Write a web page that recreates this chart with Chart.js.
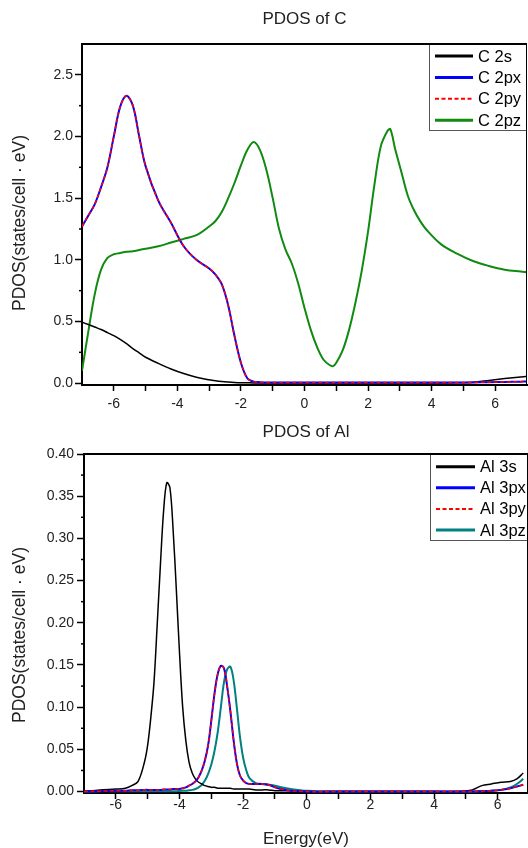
<!DOCTYPE html>
<html>
<head>
<meta charset="utf-8">
<title>PDOS of C and Al</title>
<script src="https://cdn.jsdelivr.net/npm/chart.js@4.4.0/dist/chart.umd.min.js"></script>
<style>
  body { margin: 0; background: #fff; }
  canvas { position: absolute; left: 0; }
  #chartC { top: 0; }
  #chartAl { top: 416px; }
</style>
</head>
<body>
<canvas id="chartC" width="528" height="416"></canvas>
<canvas id="chartAl" width="528" height="432"></canvas>
<script>
// ---- PDOS of C ----
var energyC = [-7, -6.8, -6.6, -6.4, -6.2, -6, -5.8, -5.6, -5.4, -5.2, -5, -4.6, -4.2, -3.8, -3.4,
  -3, -2.8, -2.6, -2.4, -2.2, -2, -1.8, -1.6, -1.4, -1.2, -1, -0.8, -0.6, -0.4, -0.2,
  0, 0.2, 0.4, 0.6, 0.8, 0.9, 1, 1.2, 1.4, 1.6, 1.8, 2, 2.2, 2.4, 2.6,
  2.7, 2.85, 3.05, 3.25, 3.45, 3.65, 3.85, 4.3, 4.8, 5.3, 5.8, 6.3, 6.8, 7];
var c2s = [0.495, 0.475, 0.455, 0.435, 0.41, 0.385, 0.355, 0.32, 0.28, 0.245, 0.21, 0.16, 0.115, 0.078, 0.048,
  0.027, 0.019, 0.013, 0.009, 0.006, 0.004, 0.003, 0.002, 0.002, 0.002, 0.002, 0.002, 0.002, 0.002, 0.002,
  0.002, 0.002, 0.002, 0.002, 0.002, 0.002, 0.002, 0.002, 0.002, 0.002, 0.002, 0.002, 0.002, 0.002, 0.002,
  0.002, 0.002, 0.002, 0.002, 0.002, 0.002, 0.002, 0.002, 0.003, 0.008, 0.022, 0.037, 0.05, 0.055];
var c2px = [1.27, 1.36, 1.45, 1.59, 1.75, 2.0, 2.24, 2.33, 2.25, 2.0, 1.76, 1.48, 1.30, 1.11, 1.0,
  0.93, 0.88, 0.80, 0.63, 0.38, 0.165, 0.04, 0.012, 0.008, 0.006, 0.006, 0.006, 0.006, 0.006, 0.006,
  0.006, 0.006, 0.006, 0.006, 0.006, 0.006, 0.006, 0.006, 0.006, 0.006, 0.006, 0.006, 0.006, 0.006, 0.006,
  0.006, 0.006, 0.006, 0.006, 0.006, 0.006, 0.006, 0.006, 0.005, 0.006, 0.008, 0.010, 0.012, 0.013];
var c2py = [1.27, 1.36, 1.45, 1.59, 1.75, 2.0, 2.24, 2.33, 2.25, 2.0, 1.76, 1.48, 1.30, 1.11, 1.0,
  0.93, 0.88, 0.80, 0.63, 0.38, 0.165, 0.04, 0.012, 0.008, 0.006, 0.006, 0.006, 0.006, 0.006, 0.006,
  0.006, 0.006, 0.006, 0.006, 0.006, 0.006, 0.006, 0.006, 0.006, 0.006, 0.006, 0.006, 0.006, 0.006, 0.006,
  0.006, 0.006, 0.006, 0.006, 0.006, 0.006, 0.006, 0.006, 0.005, 0.006, 0.008, 0.010, 0.012, 0.013];
var c2pz = [0.10, 0.42, 0.72, 0.92, 1.015, 1.045, 1.055, 1.065, 1.07, 1.08, 1.09, 1.11, 1.14, 1.17, 1.20,
  1.27, 1.315, 1.39, 1.50, 1.625, 1.765, 1.89, 1.955, 1.89, 1.73, 1.50, 1.25, 1.085, 0.97, 0.81,
  0.61, 0.43, 0.29, 0.19, 0.145, 0.138, 0.165, 0.265, 0.43, 0.65, 0.91, 1.23, 1.61, 1.92, 2.04,
  2.06, 1.90, 1.71, 1.52, 1.40, 1.31, 1.24, 1.125, 1.05, 0.99, 0.95, 0.92, 0.905, 0.90];
var yTicksC = [0, 0.5, 1.0, 1.5, 2.0, 2.5];
var yMinorC = [0.25, 0.75, 1.25, 1.75, 2.25];

// ---- PDOS of Al ----
var energyAl = [-7, -6.5, -6, -5.7, -5.5, -5.3, -5.1, -5.0, -4.9, -4.8, -4.7, -4.6, -4.5, -4.4, -4.3,
  -4.2, -4.1, -4.0, -3.9, -3.8, -3.7, -3.6, -3.5, -3.4, -3.3, -3.2, -3.1, -3.0, -2.9, -2.8,
  -2.7, -2.6, -2.5, -2.4, -2.3, -2.2, -2.1, -2.0, -1.9, -1.8, -1.6, -1.4, -1.2, -1.0, -0.8,
  -0.5, 0, 1, 2, 3, 4, 4.8, 5.2, 5.5, 5.8, 6.1, 6.4, 6.6, 6.8];
var al3s = [0.0, 0.002, 0.003, 0.004, 0.007, 0.012, 0.035, 0.055, 0.088, 0.13, 0.198, 0.268, 0.332, 0.366, 0.36,
  0.31, 0.24, 0.165, 0.10, 0.06, 0.035, 0.022, 0.015, 0.011, 0.009, 0.007, 0.006, 0.005, 0.005, 0.004,
  0.004, 0.004, 0.004, 0.004, 0.003, 0.003, 0.003, 0.003, 0.003, 0.003, 0.002, 0.002, 0.002, 0.001, 0.001,
  0.001, 0, 0, 0, 0, 0, 0, 0.002, 0.007, 0.009, 0.011, 0.012, 0.015, 0.022];
var al3px = [0, 0.0005, 0.001, 0.001, 0.0015, 0.0015, 0.002, 0.002, 0.002, 0.002, 0.002, 0.002, 0.0025, 0.0025, 0.0025,
  0.003, 0.003, 0.003, 0.004, 0.005, 0.007, 0.009, 0.012, 0.017, 0.025, 0.037, 0.055, 0.084, 0.116, 0.139,
  0.149, 0.146, 0.124, 0.095, 0.061, 0.034, 0.019, 0.013, 0.010, 0.009, 0.009, 0.009, 0.008, 0.005, 0.003,
  0.001, 0, 0, 0, 0, 0, 0, 0, 0.0005, 0.001, 0.002, 0.004, 0.006, 0.008];
var al3py = [0, 0.0005, 0.001, 0.001, 0.0015, 0.0015, 0.002, 0.002, 0.002, 0.002, 0.002, 0.002, 0.0025, 0.0025, 0.0025,
  0.003, 0.003, 0.003, 0.004, 0.005, 0.007, 0.009, 0.012, 0.017, 0.025, 0.037, 0.055, 0.084, 0.116, 0.139,
  0.149, 0.146, 0.124, 0.095, 0.061, 0.034, 0.019, 0.013, 0.010, 0.009, 0.009, 0.009, 0.008, 0.005, 0.003,
  0.001, 0, 0, 0, 0, 0, 0, 0, 0.0005, 0.001, 0.002, 0.004, 0.006, 0.008];
var al3pz = [0, 0.0005, 0.0005, 0.0005, 0.0005, 0.0005, 0.0005, 0.0005, 0.0005, 0.0005, 0.0005, 0.0005, 0.0005, 0.0005, 0.0005,
  0.0005, 0.0005, 0.0008, 0.001, 0.001, 0.0015, 0.002, 0.003, 0.005, 0.008, 0.013, 0.021, 0.032, 0.048, 0.07,
  0.10, 0.13, 0.145, 0.148, 0.132, 0.10, 0.065, 0.04, 0.025, 0.016, 0.010, 0.009, 0.008, 0.007, 0.005,
  0.003, 0.001, 0, 0, 0, 0, 0, 0, 0.0005, 0.001, 0.002, 0.005, 0.009, 0.015];
var yTicksAl = [0, 0.05, 0.10, 0.15, 0.20, 0.25, 0.30, 0.35, 0.40];
var yMinorAl = [0.025, 0.075, 0.125, 0.175, 0.225, 0.275, 0.325, 0.375];

// shared x axis ticks
var xTicks = [-6, -5, -4, -3, -2, -1, 0, 1, 2, 3, 4, 5, 6];
var xLabels = [-6, -4, -2, 0, 2, 4, 6];

var FONT = '"Liberation Sans", Arial, sans-serif';
var TXT = '#222';

function pairs(xs, ys) {
  var out = [];
  for (var i = 0; i < xs.length; i++) out.push({x: xs[i], y: ys[i]});
  return out;
}

function line(label, xs, ys, color, width, dash, order) {
  return {
    label: label,
    data: pairs(xs, ys),
    borderColor: color,
    borderWidth: width,
    borderDash: dash,
    pointRadius: 0,
    fill: false,
    tension: 0.35,
    order: order
  };
}

// little plugins: boxed legend, frame, minor ticks, rotated y title
var boxLegend = {
  id: 'boxLegend',
  afterDraw: function(chart, args, o) {
    var ctx = chart.ctx, b = o.box;
    ctx.save();
    ctx.fillStyle = '#fff';
    ctx.fillRect(b[0], b[1], b[2] - b[0], b[3] - b[1]);
    ctx.strokeStyle = '#555';
    ctx.lineWidth = 1;
    ctx.strokeRect(b[0] + 0.5, b[1] + 0.5, b[2] - b[0] - 1, b[3] - b[1] - 1);
    ctx.font = o.font;
    ctx.textBaseline = 'middle';
    chart.data.datasets.forEach(function(ds, i) {
      var y = o.firstRow + i * o.rowGap;
      ctx.strokeStyle = ds.borderColor;
      ctx.lineWidth = ds.borderDash.length ? 2 : 3;
      ctx.setLineDash(ds.borderDash.length ? [4, 2.5] : []);
      ctx.beginPath();
      ctx.moveTo(o.sample[0], y);
      ctx.lineTo(o.sample[1], y);
      ctx.stroke();
      ctx.setLineDash([]);
      ctx.fillStyle = '#000';
      ctx.fillText(ds.label, o.textX, y + 1);
    });
    ctx.restore();
  }
};

var frame = {
  id: 'frame',
  afterDraw: function(chart) {
    var a = chart.chartArea, ctx = chart.ctx;
    ctx.save();
    ctx.strokeStyle = '#000';
    ctx.lineWidth = 2;
    ctx.beginPath();
    ctx.moveTo(a.left - 1, a.top);
    ctx.lineTo(a.right, a.top);
    ctx.stroke();
    ctx.lineWidth = 1;
    ctx.beginPath();
    ctx.moveTo(a.right - 0.5, a.top);
    ctx.lineTo(a.right - 0.5, a.bottom);
    ctx.stroke();
    ctx.restore();
  }
};

var minorTicks = {
  id: 'minorTicks',
  afterDraw: function(chart, args, o) {
    var s = chart.scales.y, ctx = chart.ctx;
    ctx.save();
    ctx.strokeStyle = '#000';
    ctx.lineWidth = 1.5;
    o.values.forEach(function(v) {
      var p = s.getPixelForValue(v);
      ctx.beginPath();
      ctx.moveTo(s.right - o.length, p);
      ctx.lineTo(s.right, p);
      ctx.stroke();
    });
    ctx.restore();
  }
};

var yTitle = {
  id: 'yTitle',
  afterDraw: function(chart, args, o) {
    var ctx = chart.ctx;
    ctx.save();
    ctx.translate(o.x, o.y);
    ctx.rotate(-Math.PI / 2);
    ctx.font = o.font;
    ctx.fillStyle = TXT;
    ctx.textAlign = 'center';
    ctx.textBaseline = 'middle';
    ctx.fillText(o.text, 0, 0);
    ctx.restore();
  }
};

function xAxis(min, max, height, pad, title) {
  return {
    type: 'linear', min: min, max: max,
    afterFit: function(s) { s.height = height; },
    afterBuildTicks: function(s) { s.ticks = xTicks.map(function(v) { return {value: v}; }); },
    ticks: {
      autoSkip: false, maxRotation: 0, padding: pad, color: TXT,
      font: {family: FONT, size: 14, lineHeight: 1},
      callback: function(v) { return xLabels.indexOf(v) >= 0 ? String(v) : ''; }
    },
    grid: {drawOnChartArea: false, tickLength: 6, tickColor: '#000', tickWidth: 1.5},
    border: {color: '#000', width: 2},
    title: title
  };
}

function yAxis(min, max, width, ticks, digits, pad) {
  return {
    type: 'linear', min: min, max: max,
    afterFit: function(s) { s.width = width; },
    afterBuildTicks: function(s) { s.ticks = ticks.map(function(v) { return {value: v}; }); },
    ticks: {
      padding: pad, color: TXT,
      font: {family: FONT, size: 14},
      callback: function(v) { return v.toFixed(digits); }
    },
    grid: {drawOnChartArea: false, tickLength: 7, tickColor: '#000', tickWidth: 1.5},
    border: {color: '#000', width: 2}
  };
}

new Chart(document.getElementById('chartC'), {
  type: 'line',
  data: {
    datasets: [
      line('C 2s', energyC, c2s, '#000000', 1.5, [], 3),
      line('C 2px', energyC, c2px, '#0000ff', 2, [], 2),
      line('C 2py', energyC, c2py, '#ff0000', 1.5, [4, 2.5], 1),
      line('C 2pz', energyC, c2pz, '#108a10', 2, [], 4)
    ]
  },
  options: {
    responsive: false,
    devicePixelRatio: 1,
    animation: false,
    layout: {padding: {left: 0, right: 1, top: 0, bottom: 0}},
    scales: {
      x: xAxis(-7, 7, 31, 6, {display: false}),
      y: yAxis(-0.015, 2.75, 82, yTicksC, 1, 2)
    },
    plugins: {
      legend: {display: false},
      tooltip: {enabled: false},
      title: {display: true, text: 'PDOS of C', fullSize: false, color: TXT,
        font: {family: FONT, size: 17, weight: 'normal'}, padding: {top: 9.3, bottom: 14.3}},
      boxLegend: {box: [429, 44, 527, 131], firstRow: 56, rowGap: 21.4, sample: [435, 473], textX: 478,
        font: '16.5px ' + FONT},
      minorTicks: {values: yMinorC, length: 3},
      yTitle: {text: 'PDOS(states/cell \u00b7 eV)', x: 20.5, y: 223, font: '17.5px ' + FONT}
    }
  },
  plugins: [boxLegend, frame, minorTicks, yTitle]
});

new Chart(document.getElementById('chartAl'), {
  type: 'line',
  data: {
    datasets: [
      line('Al 3s', energyAl, al3s, '#000000', 1.5, [], 3),
      line('Al 3px', energyAl, al3px, '#0000ff', 2, [], 2),
      line('Al 3py', energyAl, al3py, '#ff0000', 1.5, [4, 2.5], 1),
      line('Al 3pz', energyAl, al3pz, '#008080', 2, [], 4)
    ]
  },
  options: {
    responsive: false,
    devicePixelRatio: 1,
    animation: false,
    layout: {padding: {left: 0, right: 0, top: 0, bottom: 0}},
    scales: {
      x: xAxis(-7, 6.95, 55, -1, {display: true, text: 'Energy(eV)', color: TXT,
        font: {family: FONT, size: 17, lineHeight: 1}, padding: 0}),
      y: yAxis(-0.0017, 0.40, 84, yTicksAl, 2, 3)
    },
    plugins: {
      legend: {display: false},
      tooltip: {enabled: false},
      title: {display: true, text: 'PDOS of Al', fullSize: false, color: TXT,
        font: {family: FONT, size: 17, weight: 'normal'}, padding: {top: 5.8, bottom: 11.8}},
      boxLegend: {box: [430, 38, 528, 125], firstRow: 50.7, rowGap: 21.1, sample: [436, 475], textX: 480,
        font: '16.5px ' + FONT},
      minorTicks: {values: yMinorAl, length: 3},
      yTitle: {text: 'PDOS(states/cell \u00b7 eV)', x: 20.5, y: 219, font: '17.5px ' + FONT}
    }
  },
  plugins: [boxLegend, frame, minorTicks, yTitle]
});
</script>
</body>
</html>
